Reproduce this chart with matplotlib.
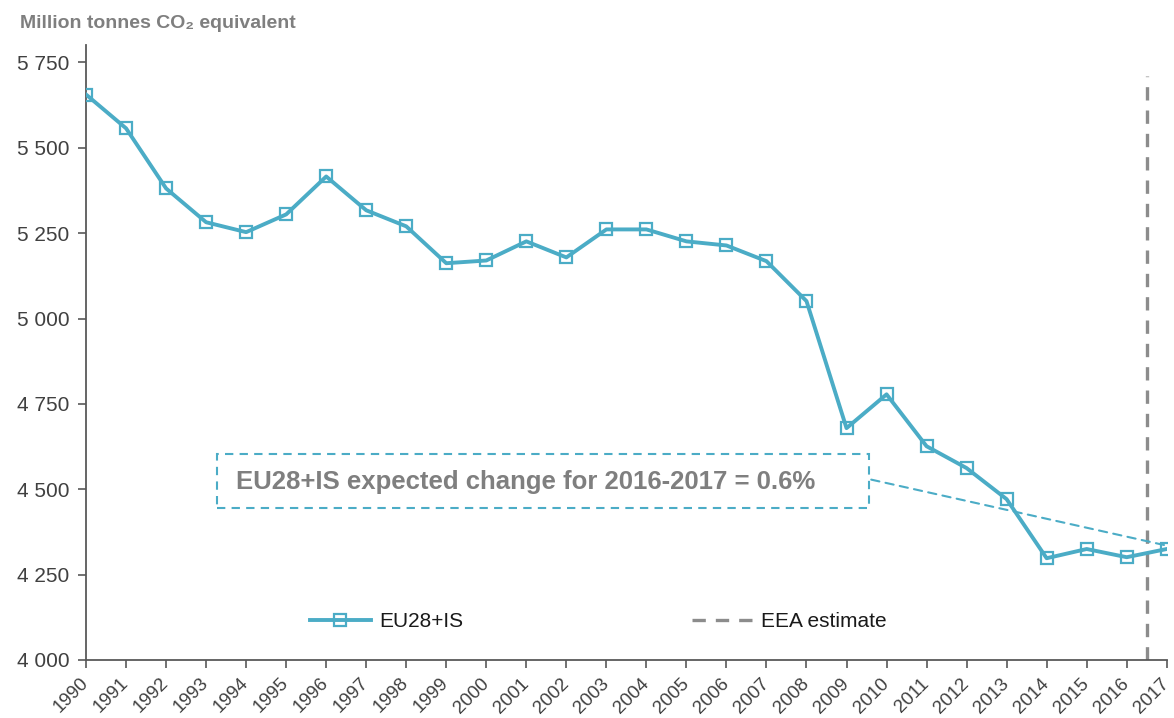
import matplotlib
matplotlib.use("Agg")
import matplotlib.pyplot as plt
from matplotlib.patches import Rectangle

plt.rcParams["font.family"] = ["Liberation Sans", "DejaVu Sans"]

# data
years = list(range(1990, 2018))
eu28_is = [5656, 5557, 5381, 5282, 5253, 5305, 5416, 5317, 5270, 5162,
           5170, 5226, 5179, 5261, 5261, 5226, 5214, 5168, 5051, 4679,
           4778, 4626, 4562, 4471, 4298, 4325, 4301, 4325]
y_ticks = [4000, 4250, 4500, 4750, 5000, 5250, 5500, 5750]
y_tick_labels = ["4 000", "4 250", "4 500", "4 750", "5 000", "5 250", "5 500", "5 750"]
estimate_x = 2016.5
note = "EU28+IS expected change for 2016-2017 = 0.6%"

BLUE = "#4BACC6"
GREY = "#8C8C8C"
DARK = "#404040"

fig = plt.figure(figsize=(11.74, 7.18), dpi=100)
ax = fig.add_axes([0.0733, 0.0808, 0.9205, 0.856])

ax.plot(years, eu28_is, color=BLUE, lw=2.8, marker="s", ms=9,
        mfc="none", mec=BLUE, mew=1.6, label="EU28+IS", zorder=3)
ax.axvline(estimate_x, ymin=0, ymax=0.95, color=GREY, lw=2.4,
           ls=(0, (4, 3)), label="EEA estimate", zorder=2)

ax.set_xlim(1990, 2017)
ax.set_ylim(4000, 5800)
ax.set_xticks(years)
ax.set_xticklabels([str(y) for y in years], rotation=45, ha="right", va="center",
                   rotation_mode="anchor", fontsize=13.5, color=DARK)
ax.set_yticks(y_ticks)
ax.set_yticklabels(y_tick_labels, fontsize=15, color=DARK)
ax.tick_params(axis="x", direction="out", length=6, width=1.2, color="#595959", pad=9)
ax.tick_params(axis="y", direction="out", length=6, width=1.2, color="#595959", pad=6)
for s in ("top", "right"):
    ax.spines[s].set_visible(False)
for s in ("left", "bottom"):
    ax.spines[s].set_color("#595959")
    ax.spines[s].set_linewidth(1.3)

# dashed note box + connector to the 2017 value
box = Rectangle((1993.28, 4445), 2009.55 - 1993.28, 4603 - 4445, fill=False,
                ec=BLUE, lw=1.5, ls=(0, (4, 3)), zorder=4)
ax.add_patch(box)
ax.text(1993.75, 4522, note, fontsize=18.5, fontweight="bold", color="#7F7F7F",
        va="center", ha="left", zorder=5)
ax.annotate("", xy=(2017, eu28_is[-1] + 10), xytext=(2009.55, 4530),
            arrowprops=dict(arrowstyle="-", color=BLUE, lw=1.5, ls=(0, (4, 3))))

leg = ax.legend(loc="center left", bbox_to_anchor=(0.19, 0.062), ncol=2,
                frameon=False, fontsize=15, handlelength=2.9, handletextpad=0.4,
                columnspacing=11.0)
for t in leg.get_texts():
    t.set_color("#1a1a1a")

fig.text(0.017, 1 - 28 / 718, "Million tonnes CO\u2082 equivalent", fontsize=14,
         fontweight="bold", color="#7F7F7F", va="baseline", ha="left")

fig.savefig("out.png", dpi=100)
